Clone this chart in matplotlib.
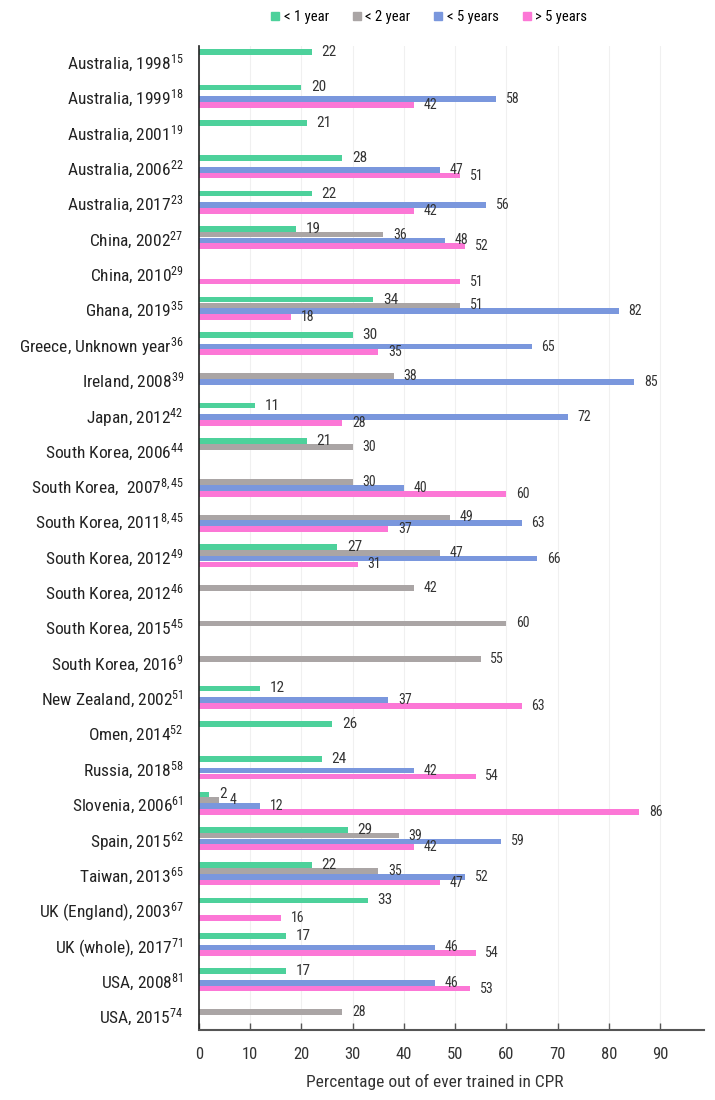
import numpy as np
import matplotlib
matplotlib.use("Agg")
import matplotlib.pyplot as plt
from matplotlib import font_manager as fm
from matplotlib.lines import Line2D

names = {f.name for f in fm.fontManager.ttflist}
FONT = "DejaVu Sans"
for cand in ["Liberation Sans Narrow", "Roboto Condensed", "Open Sans", "Noto Sans"]:
    if cand in names:
        FONT = cand
        break
plt.rcParams["font.family"] = [FONT, "DejaVu Sans"]
plt.rcParams["mathtext.fontset"] = "custom"
plt.rcParams["mathtext.rm"] = FONT
plt.rcParams["mathtext.it"] = FONT
plt.rcParams["mathtext.bf"] = FONT

# ---------------- data ----------------
studies = ["Australia, 1998", "Australia, 1999", "Australia, 2001", "Australia, 2006",
           "Australia, 2017", "China, 2002", "China, 2010", "Ghana, 2019",
           "Greece, Unknown year", "Ireland, 2008", "Japan, 2012", "South Korea, 2006",
           "South Korea,  2007", "South Korea, 2011", "South Korea, 2012", "South Korea, 2012",
           "South Korea, 2015", "South Korea, 2016", "New Zealand, 2002", "Omen, 2014",
           "Russia, 2018", "Slovenia, 2006", "Spain, 2015", "Taiwan, 2013",
           "UK (England), 2003", "UK (whole), 2017", "USA, 2008", "USA, 2015"]
refs = ["15", "18", "19", "22", "23", "27", "29", "35", "36", "39", "42", "44",
        "8,45", "8,45", "49", "46", "45", "9", "51", "52", "58", "61", "62", "65",
        "67", "71", "81", "74"]

lt1 = [22, 20, 21, 28, 22, 19, None, 34, 30, None, 11, 21, None, None, 27, None,
       None, None, 12, 26, 24, 2, 29, 22, 33, 17, 17, None]
lt2 = [None, None, None, None, None, 36, None, 51, None, 38, None, 30, 30, 49, 47, 42,
       60, 55, None, None, None, 4, 39, 35, None, None, None, 28]
lt5 = [None, 58, None, 47, 56, 48, None, 82, 65, 85, 72, None, 40, 63, 66, None,
       None, None, 37, None, 42, 12, 59, 52, None, 46, 46, None]
gt5 = [None, 42, None, 51, 42, 52, 51, 18, 35, None, 28, None, 60, 37, 31, None,
       None, None, 63, None, 54, 86, 42, 47, 16, 54, 53, None]

series_names = ["< 1 year", "< 2 year", "< 5 years", "> 5 years"]
series_vals = [lt1, lt2, lt5, gt5]
colors = ["#4dd19b", "#aaa5a5", "#7a97dd", "#fc77d6"]
label_sizes = [11, 10, 10, 10]

# ---------------- figure ----------------
fig = plt.figure(figsize=(7.15, 11), dpi=100)
ax = fig.add_axes([0.2783, 0.0636, 0.7063, 0.8946])

n = len(studies)
y = np.arange(n)
slot = 0.164
bh = 0.16

for k, (vals, col) in enumerate(zip(series_vals, colors)):
    idx = [i for i, v in enumerate(vals) if v is not None]
    v = [vals[i] for i in idx]
    yy = y[idx] + (k - 1.5) * slot
    ax.barh(yy, v, height=bh, color=col, zorder=2)
    for yi, vi in zip(yy, v):
        ax.annotate(str(vi), (vi, yi), xytext=(7, 0), textcoords="offset points",
                    va="center", ha="left", fontsize=label_sizes[k], color="#333333")

ax.set_xlim(0, 98.6)
ax.set_ylim(n - 1 + 0.42, -0.42)

ax.set_yticks(y)
ax.set_yticklabels([f"{s}$^{{{r}}}$" for s, r in zip(studies, refs)], fontsize=12.5,
                   color="#222222")
ax.tick_params(axis="y", length=0, pad=11)

ax.set_xticks(np.arange(0, 100, 10))
ax.tick_params(axis="x", direction="in", length=5, width=1, color="#555555",
               labelsize=12, labelcolor="#333333", pad=12)

ax.grid(axis="x", color="#f0f0f0", lw=0.8, zorder=0)
ax.set_axisbelow(True)

for s in ["top", "right"]:
    ax.spines[s].set_visible(False)
ax.spines["bottom"].set_color("#555555")
ax.spines["bottom"].set_linewidth(1.5)
ax.spines["left"].set_color("#222222")
ax.spines["left"].set_linewidth(1.2)

ax.set_xlabel("Percentage out of ever trained in CPR", fontsize=12.5, color="#333333")
ax.xaxis.set_label_coords(0.467, -0.045)
ax.xaxis.label.set_va("top")

handles = [Line2D([], [], marker="s", ls="", markersize=6, color=c) for c in colors]
fig.legend(handles, series_names, loc="center", bbox_to_anchor=(0.598, 0.9845), ncol=4,
           frameon=False, fontsize=10.5, handletextpad=0.1, columnspacing=1.4,
           handlelength=1.0)

fig.savefig("out.png", dpi=100)
